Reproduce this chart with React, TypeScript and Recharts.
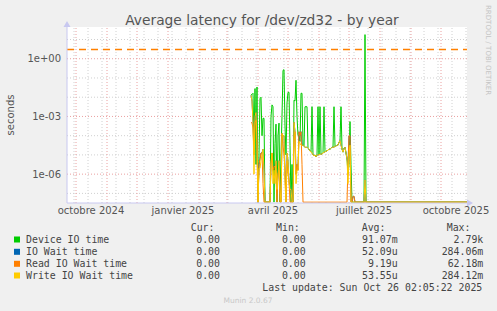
import React from 'react';
import {
    LineChart,
    Line,
    XAxis,
    YAxis,
    CartesianGrid,
    ReferenceLine,
    ReferenceDot,
} from 'recharts';

const FONT = '"DejaVu Sans", Verdana, sans-serif';
const MONO = '"DejaVu Sans Mono", monospace';

// x is in days from 22 Sep 2024 (left edge of the 400 day window)
const firstDay = 184;
const lastDay = 400;

const monthStarts = [9, 40, 70, 101, 132, 160, 191, 221, 252, 282, 313, 344, 374];
const twoWeekLines = [
    7, 21, 35, 49, 63, 77, 91, 105, 119, 133, 147, 161, 175, 189, 203,
    217, 231, 245, 259, 273, 287, 301, 315, 329, 343, 357, 371, 385, 399,
];
const xTicks = [24, 116, 206, 297, 389];
const xTickLabels = ['octobre 2024', 'janvier 2025', 'avril 2025', 'juillet 2025', 'octobre 2025'];

const yTicks = [1, 1e-3, 1e-6];
const yTickLabels = ['1e+00', '1e-03', '1e-06'];
const minorDecades = [10, 0.1, 0.01, 1e-4, 1e-5, 1e-7];
const yDomain = [3.16e-8, 44.7];
const zeroLevel = 3.5e-8; // zeros sit on the bottom edge of the log axis
const warningLevel = 3;

// one value per day, starting at firstDay
const deviceIO = [
    1.3e-2, 1.4e-2, 1.6e-2, 3.2e-5, 2.8e-2, 3.2e-6, 3.4e-2, 0, 1e-5, 8.5e-3,
    1e-2, 1e-4, 8e-4, 8e-4, 0, 0, 0, 0, 0, 0,
    1e-3, 4e-3, 3.2e-3, 0, 4e-5, 4e-4, 0, 1e-4, 4.5e-4, 0,
    1e-5, 1e-3, 0.25, 0.27, 3.2e-4, 1e-5, 5e-3, 1.8e-2, 1.8e-2, 3.2e-5,
    0, 3.2e-6, 0, 7e-3, 6.3e-3, 7.6e-2, 1e-3, 1e-4, 1e-4, 5e-5,
    1.6e-2, 1.6e-2, 3.2e-5, 2.8e-5, 3.2e-3, 3.2e-3, 3.2e-3, 2.2e-5, 2e-5, 1.6e-5,
    1.4e-5, 3.2e-3, 1e-5, 8.9e-6, 1e-5, 7.9e-6, 1e-5, 3.2e-3, 1e-5, 3.2e-3,
    1.1e-5, 1.1e-5, 1.26e-5, 3.2e-3, 1.4e-5, 1.6e-5, 1.6e-5, 1.8e-5, 2e-5, 2e-5,
    2.2e-5, 2.5e-5, 2.5e-5, 3.2e-3, 2.8e-5, 2.8e-5, 3.2e-5, 3.2e-5, 4.5e-5, 5.6e-5,
    3.2e-3, 2e-5, 1.4e-5, 2.2e-5, 2.5e-5, 1.26e-5, 6.3e-6, 1e-6, 3.2e-6, 5.4e-4,
    3.2e-6, 0, 0, 0, 0, 0, 0, 0, 0, 0,
    0, 0, 0, 0, 18, 0,
];
const ioWait = [
    1.26e-2, 6.3e-3, 5e-4, 1e-5, 1e-3, 1.6e-3, 5e-5, 0, 3.2e-6, 6.3e-6,
    1.26e-5, 1.26e-5, 2e-5, 1.6e-6, 0, 0, 0, 0, 0, 0,
    4e-6, 1.26e-5, 1.6e-6, 2.5e-6, 2.5e-6, 5e-6, 1.6e-7, 1e-6, 5e-6, 1.6e-7,
    0, 1.3e-4, 1e-4, 1e-4, 1.6e-6, 0, 1.26e-5, 5e-6, 5e-7, 1.6e-7,
    1.6e-7, 0, 0, 5e-4, 1.6e-4, 1e-6, 3.2e-6, 1.6e-6, 1.6e-4, 1e-4,
    1.6e-4, 3.2e-5, 3.2e-5, 2.8e-5, 2.5e-5, 2.5e-5, 2.5e-5, 2.2e-5, 2e-5, 1.6e-5,
    1.4e-5, 1.26e-5, 1e-5, 8.9e-6, 1e-5, 7.9e-6, 1e-5, 1e-5, 1e-5, 1.1e-5,
    1.1e-5, 1.1e-5, 1.26e-5, 1.4e-5, 1.4e-5, 1.6e-5, 1.6e-5, 1.8e-5, 2e-5, 2e-5,
    2.2e-5, 2.5e-5, 2.5e-5, 2.5e-5, 2.8e-5, 2.8e-5, 3.2e-5, 3.2e-5, 4.5e-5, 5.6e-5,
    3.2e-5, 2e-5, 1.4e-5, 2.2e-5, 2.5e-5, 1.26e-5, 6.3e-6, 3.2e-6, 1e-4, 1e-4,
    0, 0, 7e-8, 7e-8, 0, 0, 0, 0, 0, 0,
    0, 0, 0, 0, 5e-7, 0,
];
const readIO = [
    5e-4, 4.5e-4, 2.5e-4, 1e-5, 5e-4, 6.3e-4, 1.6e-5, 0, 3.2e-6, 6.3e-6,
    1.26e-5, 1.26e-5, 3.2e-7, 0, 0, 0, 0, 0, 0, 0,
    3.2e-6, 1.26e-5, 1.6e-6, 2.5e-6, 2.5e-6, 6.3e-7, 0, 1e-6, 1.6e-6, 0,
    0, 1.3e-4, 3.2e-5, 1e-5, 1.6e-6, 0, 5e-6, 1e-6, 5e-7, 0,
    0, 0, 0, 5e-5, 1.6e-4, 1e-6, 3.2e-6, 1.6e-6, 1.6e-4, 1e-4,
    1.6e-4, 3.2e-6, 0, 0, 0, 0, 0, 0, 0, 0,
    0, 0, 0, 0, 0, 0, 0, 0, 0, 0,
    0, 0, 0, 0, 0, 0, 0, 0, 0, 0,
    0, 0, 0, 0, 0, 0, 0, 0, 0, 0,
    0, 0, 0, 0, 0, 0, 0, 3.2e-6, 1e-4, 1e-4,
    0, 0, 7e-8, 7e-8, 0, 0, 0, 0, 0, 0,
    0, 0, 0, 0, 0, 0,
];
const writeIO = [
    1.26e-2, 6.3e-3, 5e-4, 1e-6, 1e-3, 1.6e-3, 5e-5, 0, 2e-6, 2e-6,
    5e-6, 1e-5, 2e-5, 1.6e-6, 0, 0, 0, 0, 0, 0,
    4e-6, 1.26e-5, 3.2e-7, 1.6e-6, 3.2e-7, 5e-6, 1.6e-7, 1e-6, 5e-6, 1.6e-7,
    0, 1.3e-4, 1e-4, 1e-4, 3.2e-7, 0, 1.26e-5, 5e-6, 3.2e-7, 1.6e-7,
    1.6e-7, 0, 0, 5e-4, 1.6e-4, 3.2e-7, 1.6e-6, 1.6e-6, 5e-5, 4e-5,
    3.2e-5, 3.2e-5, 3.2e-5, 2.8e-5, 2.5e-5, 2.5e-5, 2.5e-5, 2.2e-5, 2e-5, 1.6e-5,
    1.4e-5, 1.26e-5, 1e-5, 8.9e-6, 1e-5, 7.9e-6, 1e-5, 1e-5, 1e-5, 1.1e-5,
    1.1e-5, 1.1e-5, 1.26e-5, 1.4e-5, 1.4e-5, 1.6e-5, 1.6e-5, 1.8e-5, 2e-5, 2e-5,
    2.2e-5, 2.5e-5, 2.5e-5, 2.5e-5, 2.8e-5, 2.8e-5, 3.2e-5, 3.2e-5, 4.5e-5, 5.6e-5,
    3.2e-5, 2e-5, 1.4e-5, 2.2e-5, 2.5e-5, 1.26e-5, 6.3e-6, 3.2e-7, 1e-5, 3.2e-5,
    0, 0, 0, 0, 0, 0, 0, 0, 0, 0,
    0, 0, 0, 0, 5e-7, 0,
];

const legendNames = ['Device IO time', 'IO Wait time', 'Read IO Wait time', 'Write IO Wait time'];
const legendColors = ['#00cc00', '#0066b3', '#ff8000', '#ffcc00'];
const curValues = ['0.00', '0.00', '0.00', '0.00'];
const minValues = ['0.00', '0.00', '0.00', '0.00'];
const avgValues = ['91.07m', '52.09u', '9.19u', '53.55u'];
const maxValues = ['2.79k', '284.06m', '62.18m', '284.12m'];

const toPlot = (v: number) => (v > 0 ? v : zeroLevel);

const rows = deviceIO.map((v, i) => ({
    day: firstDay + i,
    dev: toPlot(v),
    wait: toPlot(ioWait[i]),
    read: toPlot(readIO[i]),
    write: toPlot(writeIO[i]),
}));
rows.push({ day: lastDay, dev: toPlot(0), wait: toPlot(0), read: toPlot(0), write: toPlot(0) });

const AXIS = '#c8c8f0';
const TEXT = '#555555';

const rowY = [243, 255.3, 267.3, 279];

export default function App() {
    return (
        <div
            style={{
                position: 'absolute',
                left: 0,
                top: 0,
                width: 497,
                height: 311,
                background: '#f0f0f0',
                overflow: 'hidden',
            }}
        >
            <LineChart width={497} height={311} data={rows} margin={{ top: 27, right: 30, bottom: 0, left: 0 }}>
                <CartesianGrid fill="#ffffff" horizontal={false} vertical={false} />
                <XAxis
                    dataKey="day"
                    type="number"
                    domain={[0, lastDay]}
                    ticks={xTicks}
                    interval={0}
                    tickFormatter={(v) => xTickLabels[xTicks.indexOf(v)]}
                    height={108}
                    axisLine={{ stroke: AXIS }}
                    tickLine={false}
                    tickSize={0}
                    tickMargin={4}
                    tick={{ fill: TEXT, fontSize: 10, fontFamily: FONT }}
                />
                <YAxis
                    scale="log"
                    domain={yDomain}
                    allowDataOverflow
                    ticks={yTicks}
                    interval={0}
                    tickFormatter={(v) => yTickLabels[yTicks.indexOf(v)]}
                    width={67}
                    axisLine={{ stroke: AXIS }}
                    tickLine={false}
                    tickSize={0}
                    tickMargin={6}
                    tick={{ fill: TEXT, fontSize: 10, fontFamily: FONT }}
                />
                {twoWeekLines.map((d) => (
                    <ReferenceLine key={'w' + d} x={d} stroke="#d0d0d0" strokeDasharray="1 2" />
                ))}
                {minorDecades.map((v) => (
                    <ReferenceLine key={'m' + v} y={v} stroke="#d0d0d0" strokeDasharray="1 2" />
                ))}
                {monthStarts.map((d) => (
                    <ReferenceLine key={'M' + d} x={d} stroke="#eaa0a0" strokeDasharray="1 2" />
                ))}
                {yTicks.map((v) => (
                    <ReferenceLine key={'Y' + v} y={v} stroke="#eaa0a0" strokeDasharray="1 2" />
                ))}
                <ReferenceLine y={warningLevel} stroke="#ff8000" strokeWidth={1.4} strokeDasharray="7 5" />
                <Line type="linear" dataKey="dev" stroke={legendColors[0]} strokeWidth={1} dot={false} isAnimationActive={false} />
                <Line type="linear" dataKey="wait" stroke={legendColors[1]} strokeWidth={1} dot={false} isAnimationActive={false} />
                <Line type="linear" dataKey="read" stroke={legendColors[2]} strokeWidth={1} dot={false} isAnimationActive={false} />
                <Line type="linear" dataKey="write" stroke={legendColors[3]} strokeWidth={1} dot={false} isAnimationActive={false} />
                <ReferenceDot
                    x={lastDay}
                    y={yDomain[0]}
                    r={0}
                    ifOverflow="visible"
                    shape={(p: any) => (
                        <path d={`M${p.cx} ${p.cy - 3.5} L${p.cx + 6} ${p.cy} L${p.cx} ${p.cy + 3.5} Z`} fill={AXIS} />
                    )}
                />
                <ReferenceDot
                    x={0}
                    y={yDomain[1]}
                    r={0}
                    ifOverflow="visible"
                    shape={(p: any) => (
                        <path d={`M${p.cx - 3.5} ${p.cy} L${p.cx} ${p.cy - 6} L${p.cx + 3.5} ${p.cy} Z`} fill={AXIS} />
                    )}
                />
            </LineChart>
            <svg
                width={497}
                height={311}
                style={{ position: 'absolute', left: 0, top: 0, pointerEvents: 'none' }}
            >
                <text x={262} y={24.5} textAnchor="middle" fontSize={13.8} fontFamily={FONT} fill={TEXT}>
                    Average latency for /dev/zd32 - by year
                </text>
                <text
                    x={0}
                    y={0}
                    transform="translate(14 115) rotate(-90)"
                    textAnchor="middle"
                    fontSize={10}
                    fontFamily={FONT}
                    fill={TEXT}
                >
                    seconds
                </text>
                <text
                    x={0}
                    y={0}
                    transform="translate(486 5) rotate(90)"
                    fontSize={7}
                    fontFamily={FONT}
                    fill="#c4c4c4"
                >
                    RRDTOOL / TOBI OETIKER
                </text>
                <g fontFamily={MONO} fontSize={9.9} fill="#444444">
                    <text x={190.7} y={231.3}>Cur:</text>
                    <text x={276} y={231.3}>Min:</text>
                    <text x={361.7} y={231.3}>Avg:</text>
                    <text x={446.7} y={231.3}>Max:</text>
                    {legendNames.map((name, i) => (
                        <g key={name}>
                            <rect x={14} y={rowY[i] - 6.5} width={6} height={6} fill={legendColors[i]} />
                            <text x={26} y={rowY[i]}>{name}</text>
                            <text x={220} y={rowY[i]} textAnchor="end">{curValues[i]}</text>
                            <text x={305.7} y={rowY[i]} textAnchor="end">{minValues[i]}</text>
                            <text x={397.7} y={rowY[i]} textAnchor="end">{avgValues[i]}</text>
                            <text x={483.3} y={rowY[i]} textAnchor="end">{maxValues[i]}</text>
                        </g>
                    ))}
                    <text x={482.3} y={291} textAnchor="end">
                        Last update: Sun Oct 26 02:05:22 2025
                    </text>
                </g>
                <text x={248} y={303} textAnchor="middle" fontSize={7.5} fontFamily={FONT} fill="#c8c8c8">
                    Munin 2.0.67
                </text>
            </svg>
        </div>
    );
}
